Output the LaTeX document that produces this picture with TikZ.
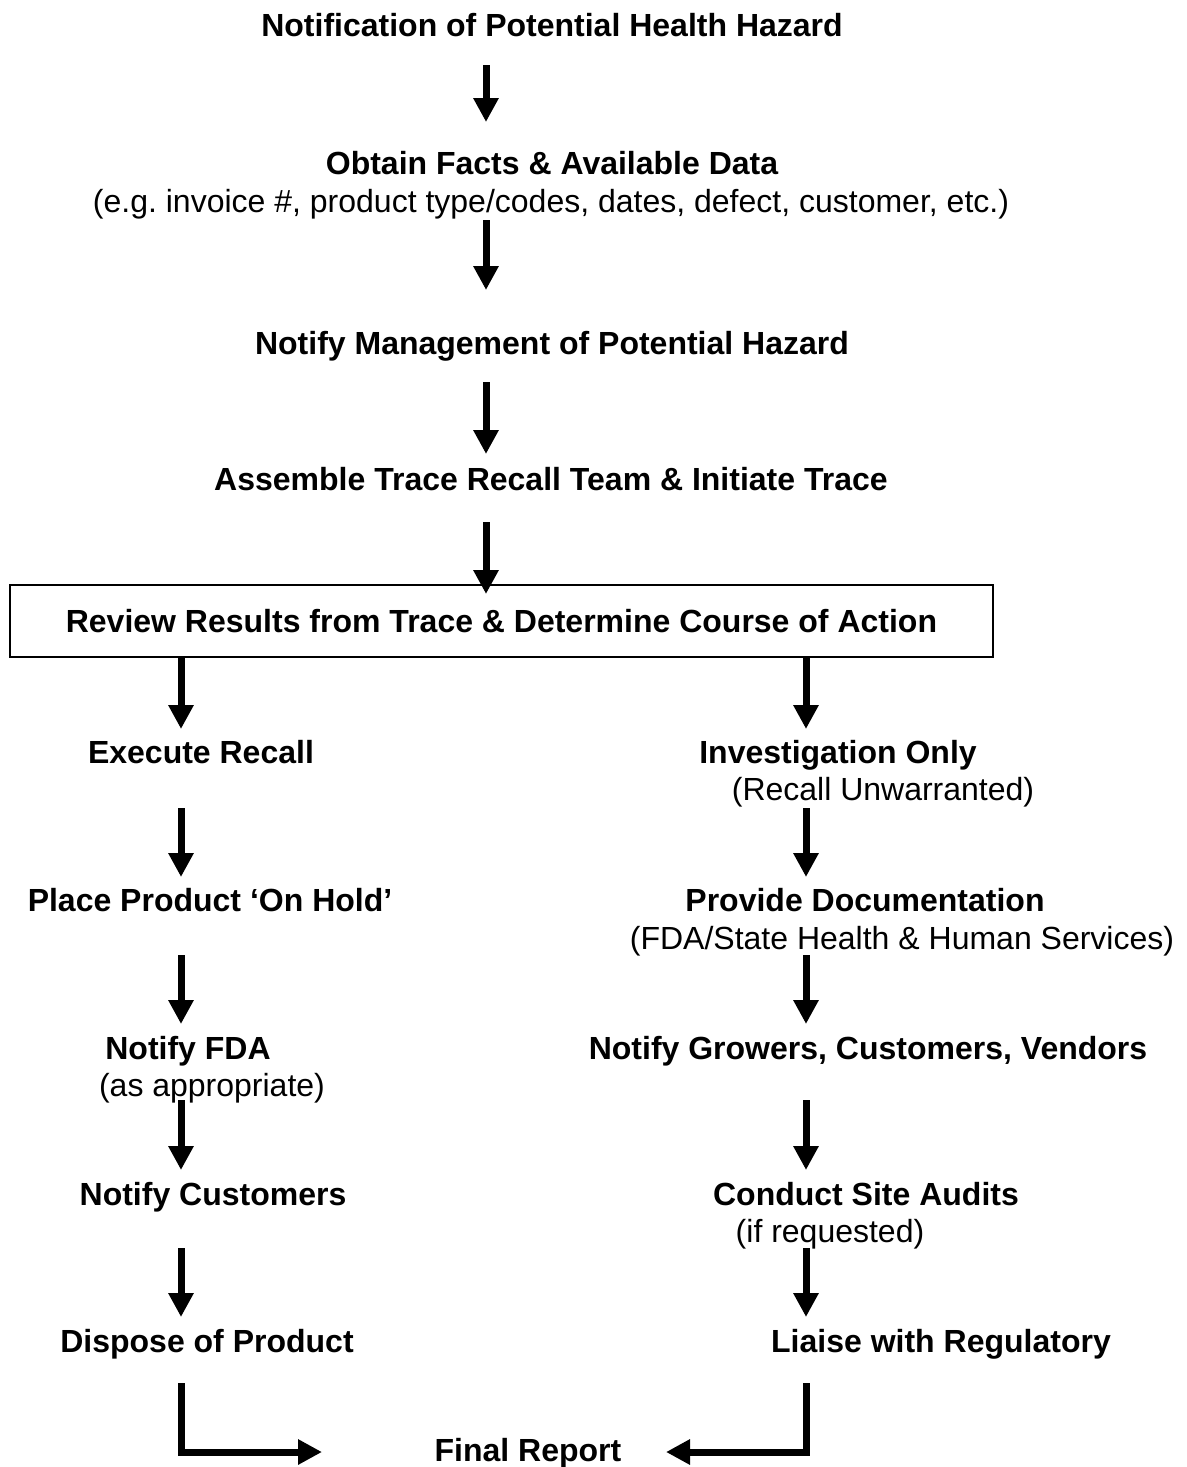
\documentclass[tikz,border=0pt]{standalone}
\usepackage{fontspec}
\setmainfont{Liberation Sans}
\usetikzlibrary{arrows.meta}
\frenchspacing
\begin{document}
\begin{tikzpicture}[x=1pt,y=-1pt,
  bt/.style={font=\fontsize{32}{38}\selectfont\bfseries, inner sep=0pt, anchor=base},
  rt/.style={font=\fontsize{32}{38}\selectfont, inner sep=0pt, anchor=base},
  arr/.style={line width=7pt, -{Triangle[width=24pt,length=24pt]}},
  elbowarr/.style={line width=7pt, line join=miter, -{Triangle[width=24pt,length=24pt]}},
  boxst/.style={draw, line width=2.5pt, minimum width=983pt, minimum height=72pt, inner sep=0pt, anchor=center}
]
\useasboundingbox (0,0) rectangle (1186,1467);

% top chain
\node[bt] (n1) at (552,36) {Notification of Potential Health Hazard};
\node[bt] (n2) at (552,174) {Obtain Facts \& Available Data};
\node[rt] (n2b) at (551,212) {(e.g.\ invoice \#, product type/codes, dates, defect, customer, etc.)};
\node[bt] (n3) at (552,354) {Notify Management of Potential Hazard};
\node[bt] (n4) at (551,490) {Assemble Trace Recall Team \& Initiate Trace};
\node[boxst, font=\fontsize{32}{38}\selectfont\bfseries] (box) at (501.5,621) {Review Results from Trace \& Determine Course of Action};

% left column
\node[bt] (l1) at (201,763) {Execute Recall};
\node[bt] (l2) at (210,911) {Place Product ‘On Hold’};
\node[bt] (l3) at (188,1059) {Notify FDA};
\node[rt] (l3b) at (212,1096) {(as appropriate)};
\node[bt] (l4) at (213,1205) {Notify Customers};
\node[bt] (l5) at (207,1352) {Dispose of Product};

% right column
\node[bt] (r1) at (838,763) {Investigation Only};
\node[rt] (r1b) at (883,800) {(Recall Unwarranted)};
\node[bt] (r2) at (865,911) {Provide Documentation};
\node[rt] (r2b) at (902,949) {(FDA/State Health \& Human Services)};
\node[bt] (r3) at (868,1059) {Notify Growers, Customers, Vendors};
\node[bt] (r4) at (866,1205) {Conduct Site Audits};
\node[rt] (r4b) at (830,1242) {(if requested)};
\node[bt] (r5) at (941,1352) {Liaise with Regulatory};

\node[bt] (fin) at (528,1461) {Final Report};

% arrow coordinates
\coordinate (a1s) at (486,65);   \coordinate (a1e) at (486,122);
\coordinate (a2s) at (486,220);  \coordinate (a2e) at (486,290);
\coordinate (a3s) at (486,382);  \coordinate (a3e) at (486,454);
\coordinate (a4s) at (486,522);  \coordinate (a4e) at (486,594);
\coordinate (bl) at (181,657);   \coordinate (ble) at (181,729);
\coordinate (br) at (806,657);   \coordinate (bre) at (806,729);
\coordinate (l1s) at (181,808);  \coordinate (l1e) at (181,877);
\coordinate (l2s) at (181,955);  \coordinate (l2e) at (181,1024);
\coordinate (l3s) at (181,1100); \coordinate (l3e) at (181,1170);
\coordinate (l4s) at (181,1248); \coordinate (l4e) at (181,1317);
\coordinate (l5s) at (181,1383); \coordinate (l5c) at (181,1452); \coordinate (l5e) at (322,1452);
\coordinate (r1s) at (806,808);  \coordinate (r1e) at (806,877);
\coordinate (r2s) at (806,955);  \coordinate (r2e) at (806,1024);
\coordinate (r3s) at (806,1100); \coordinate (r3e) at (806,1170);
\coordinate (r4s) at (806,1248); \coordinate (r4e) at (806,1317);
\coordinate (r5s) at (806,1383); \coordinate (r5c) at (806,1452); \coordinate (r5e) at (666,1452);

\draw[arr] (a1s) -- (a1e);
\draw[arr] (a2s) -- (a2e);
\draw[arr] (a3s) -- (a3e);
\draw[arr] (a4s) -- (a4e);
\draw[arr] (bl) -- (ble);
\draw[arr] (br) -- (bre);
\draw[arr] (l1s) -- (l1e);
\draw[arr] (l2s) -- (l2e);
\draw[arr] (l3s) -- (l3e);
\draw[arr] (l4s) -- (l4e);
\draw[arr] (r1s) -- (r1e);
\draw[arr] (r2s) -- (r2e);
\draw[arr] (r3s) -- (r3e);
\draw[arr] (r4s) -- (r4e);
\draw[elbowarr] (l5s) -- (l5c) -- (l5e);
\draw[elbowarr] (r5s) -- (r5c) -- (r5e);
\end{tikzpicture}
\end{document}
